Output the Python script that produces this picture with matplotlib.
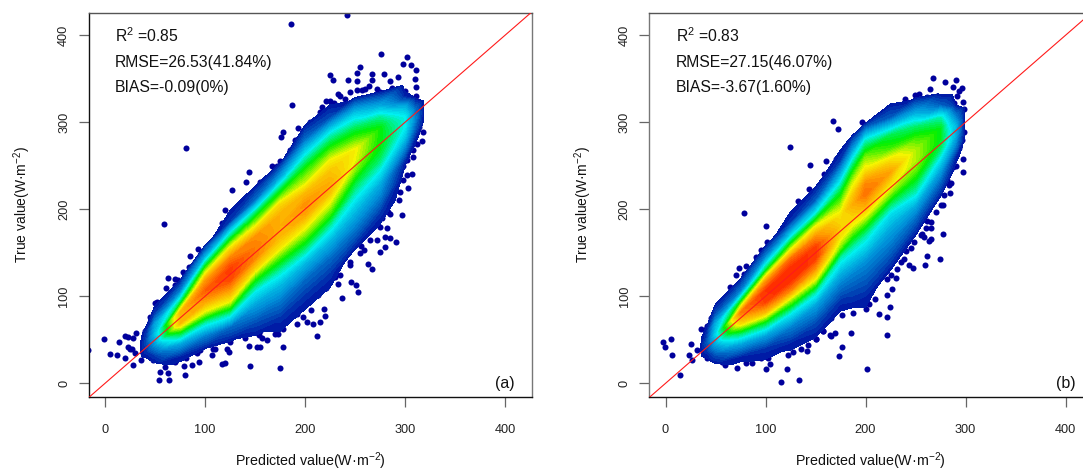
import numpy as np
import matplotlib
matplotlib.use('Agg')
import matplotlib.pyplot as plt
from matplotlib.colors import LinearSegmentedColormap

plt.rcParams['font.family'] = ['Liberation Sans', 'DejaVu Sans']
plt.rcParams['mathtext.fontset'] = 'custom'
plt.rcParams['mathtext.rm'] = 'Liberation Sans'
plt.rcParams['mathtext.default'] = 'regular'

# offset from the 1:1 line (true - predicted) for the density table columns
offsets = [-125, -100, -80, -60, -45, -30, -18, -6, 6, 18, 30, 45, 60, 80, 100, 125]

a_stations = [33, 42, 50, 75, 100, 125, 150, 175, 200, 225, 250, 275, 300, 310, 320]
a_density = [
    [0, 0, 0, 0, 0, 0, 0, 0, 0, 0, 0, 0, 0, 0, 0, 0],
    [0, 0, 0, 0, 0, 0, 0, .05, .09, .05, 0, 0, 0, 0, 0, 0],
    [0, 0, 0, 0, 0, 0, .06, .18, .25, .2, .06, 0, 0, 0, 0, 0],
    [0, 0, 0, 0, .03, .2, .45, .78, .78, .42, .15, 0, 0, 0, 0, 0],
    [0, 0, 0, .02, .15, .38, .65, .82, .92, .83, .58, .22, 0, 0, 0, 0],
    [0, 0, 0, .12, .38, .68, .83, .95, .97, .88, .7, .38, .06, 0, 0, 0],
    [0, 0, .08, .2, .32, .52, .73, .87, .88, .85, .67, .42, .12, 0, 0, 0],
    [0, .05, .14, .25, .38, .55, .7, .78, .8, .8, .72, .48, .22, 0, 0, 0],
    [0, .05, .12, .25, .42, .58, .7, .82, .85, .78, .64, .52, .35, .12, 0, 0],
    [0, .05, .12, .24, .37, .54, .65, .76, .8, .76, .68, .52, .36, .08, 0, 0],
    [0, 0, .1, .2, .28, .38, .47, .58, .66, .68, .56, .42, .26, 0, 0, 0],
    [0, 0, .05, .15, .22, .33, .42, .48, .5, .5, .4, .2, .02, 0, 0, 0],
    [0, 0, 0, 0, .03, .15, .25, .32, .33, .22, .03, 0, 0, 0, 0, 0],
    [0, 0, 0, 0, 0, .03, .1, .16, .12, .02, 0, 0, 0, 0, 0, 0],
    [0, 0, 0, 0, 0, 0, 0, 0, 0, 0, 0, 0, 0, 0, 0, 0],
]

b_stations = [33, 42, 50, 75, 100, 125, 150, 175, 187, 200, 225, 250, 275, 290, 300]
b_density = [
    [0, 0, 0, 0, 0, 0, 0, 0, 0, 0, 0, 0, 0, 0, 0, 0],
    [0, 0, 0, 0, 0, 0, 0, .05, .1, .05, 0, 0, 0, 0, 0, 0],
    [0, 0, 0, 0, 0, 0, .08, .2, .28, .22, .08, 0, 0, 0, 0, 0],
    [0, 0, 0, 0, .03, .2, .42, .72, .88, .5, .15, .02, 0, 0, 0, 0],
    [0, 0, 0, .05, .2, .47, .78, .97, .98, .82, .45, .15, 0, 0, 0, 0],
    [0, 0, .03, .15, .32, .6, .87, 1, 1, .9, .62, .28, .05, 0, 0, 0],
    [0, .01, .08, .2, .38, .67, .85, .97, .97, .85, .67, .33, .1, 0, 0, 0],
    [0, 0, .05, .15, .25, .38, .58, .7, .74, .7, .6, .46, .28, .06, 0, 0],
    [0, .02, .08, .16, .26, .38, .52, .66, .74, .8, .74, .62, .46, .2, 0, 0],
    [0, .04, .1, .17, .27, .38, .52, .68, .82, .9, .86, .7, .58, .34, 0, 0],
    [0, 0, .08, .16, .22, .3, .44, .6, .72, .82, .72, .54, .44, .1, 0, 0],
    [0, 0, .02, .12, .22, .37, .47, .56, .62, .62, .55, .42, .22, 0, 0, 0],
    [0, 0, 0, .02, .1, .2, .3, .42, .48, .48, .38, .1, 0, 0, 0, 0],
    [0, 0, 0, 0, 0, .04, .14, .22, .24, .14, .02, 0, 0, 0, 0, 0],
    [0, 0, 0, 0, 0, 0, 0, 0, 0, 0, 0, 0, 0, 0, 0, 0],
]

# single points outside the dense cloud
a_pred = [186, 242, 276, 302, 298, 306, 311, 310, 311, 311, 255, 252, 225, 228, 243, 252, 267, 279, 293, 267,
          285, 264, 252, 257, 272, 287, 300, 233, 240, 221, 229, 217, 187, 213, 204, 193, 178, 176, 198, 190,
          188, 185, 167, 172, 155, 81, 59, 144, 141, 127, 120, 128, 117, 126, 140, 142, 155,
          -17, -1, 5, 12, 14, 20, 23, 28, 31, 23, 27, 20, 28, 30, 36, 25, 45, 50, 52, 61, 63, 66, 73, 70,
          84, 85, 93, 95, 103, 112, 95, 54, 64, 55, 63, 60, 80, 79, 87, 94, 117, 120, 145, 175, 144, 152,
          155, 178, 107, 108, 122, 124, 81, 92, 70, 48, 152, 157, 154, 167, 170, 173, 178, 178, 173, 192,
          155, 132, 140, 212, 208, 202, 198, 215, 220, 219, 206, 192, 237, 253, 251, 246, 233, 230, 267,
          263, 275, 280, 291, 285, 280, 272, 259, 256, 245, 221, 213, 207, 198, 173, 168, 162, 160,
          318, 317, 309, 308, 308, 307, 302, 298, 295, 298, 303, 294, 297, 283, 278, 288, 282, 277, 268]
a_true = [413, 423, 379, 375, 367, 366, 360, 350, 340, 330, 364, 357, 354, 349, 349, 347, 356, 355, 352, 349,
          347, 342, 337, 337, 338, 339, 336, 333, 327, 324, 322, 318, 320, 302, 297, 294, 289, 283, 287, 280,
          272, 264, 250, 250, 231, 271, 183, 243, 231, 222, 199, 196, 184, 185, 197, 211, 216,
          38, 51, 34, 33, 47, 54, 53, 52, 58, 42, 40, 29, 21, 35, 27, 40, 76, 92, 93, 109, 121, 105, 119, 113,
          134, 146, 154, 148, 150, 165, 135, 4, 4, 13, 12, 19, 10, 20, 21, 25, 22, 23, 20, 18, 43, 42,
          42, 42, 33, 39, 39, 36, 29, 35, 25, 27, 64, 52, 56, 68, 57, 57, 62, 72, 74, 68,
          73, 55, 60, 54, 68, 71, 76, 71, 77, 85, 84, 80, 98, 105, 113, 117, 114, 122, 131,
          137, 151, 157, 162, 167, 168, 165, 153, 158, 136, 109, 101, 97, 90, 75, 65, 50, 65,
          289, 279, 283, 277, 268, 241, 257, 250, 243, 234, 225, 211, 193, 197, 205, 220, 178, 190, 182]

# dots hugging the edge of the cloud
a_rim_pred = [70, 78, 90, 100, 110, 120, 130, 135, 140, 150, 160, 165, 175, 185, 195, 205, 215, 225, 235, 245, 260,
              275, 290, 300, 308, 312, 314, 60, 70, 80, 95, 110, 125, 140, 155, 165, 180, 190, 205, 215, 225, 235,
              245, 255, 265, 275, 285, 295, 302, 308, 312, 40, 45, 38]
a_rim_true = [120, 128, 140, 150, 165, 178, 195, 200, 208, 220, 228, 240, 255, 268, 283, 300, 312, 325, 330, 335,
              338, 335, 335, 330, 320, 305, 295, 28, 28, 33, 38, 40, 47, 52, 60, 65, 80, 85, 95, 105, 118, 125,
              140, 150, 165, 180, 195, 220, 240, 260, 275, 60, 70, 35]

b_pred = [167, 172, 124, 144, 160, 170, 158, 170, 78, 100, 143, 147, 132, 135, 129, 133, 142, 161, 158, 114, 120, 167,
          267, 279, 290, 296, 287, 293, 264, 253, 249, 239, 239, 261, 271, 282, 291, 297, 298, 293, 288, 223, 235,
          225, 221, 196, 198, 219, 210, 221, 192, 182, 190, 186, 178, 169, 163, 156,
          298, 293, 290, 297, 297, 287, 283, 281, 283, 284, 278, 270, 277, 270, 261, 261, 251, 251, 277, 260, 265,
          256, 265, 243, 263, 248, 258, 239, 240, 261, 259, 274, 247, 243, 238, 231, 230, 221, 226, 221, 224, 213,
          221, 221, 185, 203, 200, 187, 176, 169, 209, 176, 173, 201, 169, 164, 157, 150, 148,
          -3, 5, -1, 6, 14, 25, 23, 26, 31, 35, 41, 45, 41, 54, 56, 59, 64, 73, 78, 86, 71, 80, 86, 95, 102, 104,
          100, 115, 133, 121, 122, 127, 135, 142, 141, 125, 130, 140, 150, 165, 98, 104, 95, 101, 105, 112, 115,
          158, 168, 148, 157]
b_true = [301, 292, 272, 251, 256, 258, 241, 240, 196, 181, 223, 218, 209, 202, 194, 195, 202, 228, 220, 169, 172, 232,
          351, 346, 349, 339, 340, 336, 338, 333, 331, 327, 323, 329, 330, 329, 330, 323, 315, 315, 322, 313, 314,
          306, 304, 300, 293, 298, 293, 293, 281, 270, 267, 263, 257, 239, 229, 218,
          289, 280, 265, 258, 243, 249, 255, 234, 228, 219, 216, 214, 205, 197, 200, 187, 197, 183, 172, 178, 178,
          172, 166, 172, 164, 163, 168, 161, 152, 146, 136, 143, 133, 136, 143, 131, 121, 120, 108, 101, 88, 80,
          76, 55, 58, 91, 85, 81, 79, 84, 97, 42, 31, 16, 58, 56, 60, 51, 62,
          47, 51, 42, 33, 10, 45, 32, 27, 38, 62, 66, 75, 29, 30, 25, 21, 111, 133, 126, 130, 18, 23, 23, 29, 29, 22,
          16, 2, 4, 16, 33, 36, 40, 44, 37, 50, 48, 53, 51, 54, 38, 39, 153, 162, 157, 160, 169,
          84, 84, 62, 60]

b_rim_pred = [70, 80, 90, 100, 112, 125, 135, 145, 155, 165, 175, 185, 195, 205, 215, 225, 240, 255, 270, 282, 290,
              294, 296, 55, 68, 80, 95, 110, 125, 135, 150, 165, 180, 195, 210, 225, 235, 245, 255, 265, 275, 285,
              290, 293, 40, 36, 45]
b_rim_true = [125, 135, 145, 155, 170, 185, 200, 215, 228, 240, 255, 268, 285, 297, 305, 315, 322, 325, 325, 320, 310,
              295, 280, 30, 30, 32, 35, 45, 55, 62, 65, 75, 90, 95, 115, 125, 140, 155, 170, 185, 205, 230,
              250, 270, 62, 40, 72]

a_stats = ['R$^{2}$ =0.85', 'RMSE=26.53(41.84%)', 'BIAS=-0.09(0%)']
b_stats = ['R$^{2}$ =0.83', 'RMSE=27.15(46.07%)', 'BIAS=-3.67(1.60%)']
stat_y = [400, 368.5, 340]

ticks = [0, 100, 200, 300, 400]

dens_cmap = LinearSegmentedColormap.from_list('dens', [
    (0.0, '#00009c'), (0.07, '#0045b5'), (0.17, '#0090d8'), (0.33, '#00f0f0'),
    (0.5, '#00f000'), (0.67, '#f5f500'), (0.83, '#ffa000'), (1.0, '#ff2800')])
levels = np.linspace(0.02, 1.0, 50)


def panel(ax, stations, density, pred, true, rim_pred, rim_true, stats, tag, left_col):
    # dots sit under the density field, their rim has the same dark blue
    ax.scatter(pred, true, s=19, color='#00009c', linewidths=0, zorder=2)
    ax.scatter(rim_pred, rim_true, s=19, color='#00009c', linewidths=0, zorder=2)

    xx, vv = np.meshgrid(stations, offsets, indexing='ij')
    ax.contourf(xx, xx + vv, np.array(density), levels=levels, cmap=dens_cmap,
                vmin=0, vmax=1, extend='max', zorder=3)
    ax.plot([-20, 440], [-20, 440], color='#ff1a1a', lw=0.8, zorder=4)

    ax.set_xlim(-16.5, 426.5)
    ax.set_ylim(-15.7, 425.6)
    ax.set_xticks(ticks)
    ax.set_yticks(ticks)
    ax.tick_params(axis='both', length=7.2, width=0.9, color='#666666', labelsize=9.2,
                   labelcolor='#222222')
    ax.tick_params(axis='x', pad=12)
    ax.tick_params(axis='y', pad=6)
    for lab in ax.get_yticklabels():
        lab.set_rotation(90)
        lab.set_va('center')

    ax.spines['left'].set_color(left_col)
    ax.spines['bottom'].set_color('#111111')
    ax.spines['top'].set_color('#555555')
    ax.spines['right'].set_color('#777777')
    for s in ax.spines.values():
        s.set_linewidth(1.0)

    for txt, y in zip(stats, stat_y):
        ax.text(10, y, txt, fontsize=11.3, ha='left', va='center', color='#111111')
    ax.text(410, 0, tag, fontsize=11.5, ha='right', va='center', color='#111111')

    ax.set_xlabel('Predicted value(W·m$^{-2}$)', fontsize=10.3, labelpad=10.5, color='#111111')
    ax.set_ylabel('True value(W·m$^{-2}$)', fontsize=10, labelpad=18, color='#111111')


fig = plt.figure(figsize=(10.83, 4.71), dpi=100)
ax1 = fig.add_axes([88.5 / 1083, 74 / 471, 443 / 1083, 384 / 471])
ax2 = fig.add_axes([649 / 1083, 74 / 471, 443 / 1083, 384 / 471])

panel(ax1, a_stations, a_density, a_pred, a_true, a_rim_pred, a_rim_true, a_stats, '(a)', '#111111')
panel(ax2, b_stations, b_density, b_pred, b_true, b_rim_pred, b_rim_true, b_stats, '(b)', '#777777')

fig.savefig('out.png', dpi=100)
